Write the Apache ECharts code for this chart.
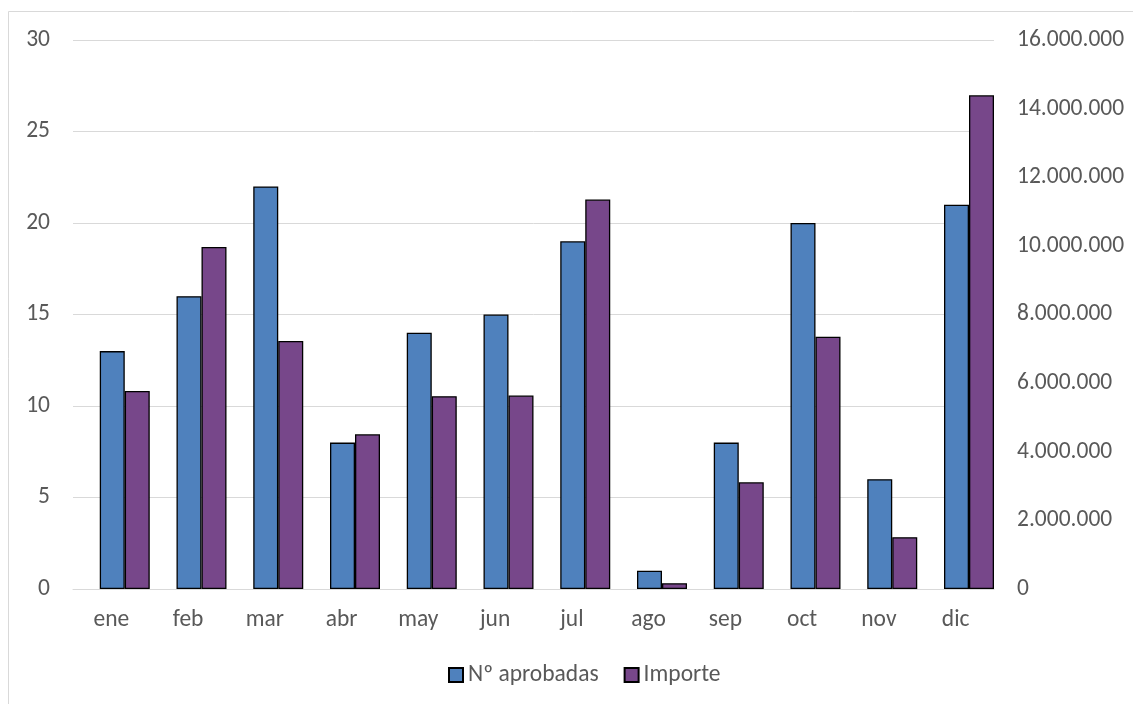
<!DOCTYPE html>
<html>
<head>
<meta charset="utf-8">
<script src="https://cdn.jsdelivr.net/npm/echarts@6/dist/echarts.min.js"></script>
<style>
html,body{margin:0;padding:0;background:#fff;}
#chart{width:1133px;height:704px;}
</style>
</head>
<body>
<div id="chart"></div>
<script>
const categories = ['ene','feb','mar','abr','may','jun','jul','ago','sep','oct','nov','dic'];
const aprobadas = [13, 16, 22, 8, 14, 15, 19, 1, 8, 20, 6, 21];
const importe = [5770000, 9970000, 7230000, 4510000, 5620000, 5640000, 11350000, 170000, 3110000, 7350000, 1510000, 14390000];
const spacer = [0,0,0,0,0,0,0,0,0,0,0,0];
const seriesNames = ['Nº aprobadas', 'Importe'];

const FONT = 'Carlito, "Liberation Sans", sans-serif';
const FS = 23.5;
const TXT = '#595959';
const GRID = '#D9D9D9';

function fmtThousands(v){
  return String(Math.round(v)).replace(/\B(?=(\d{3})+(?!\d))/g, '.');
}

const chart = echarts.init(document.getElementById('chart'), null, {renderer:'canvas'});
chart.setOption({
  animation: false,
  backgroundColor: '#fff',
  textStyle: {fontFamily: FONT},
  graphic: [{
    type: 'rect',
    shape: {x: 8.5, y: 11.5, width: 1300, height: 900},
    style: {fill: 'none', stroke: GRID, lineWidth: 1},
    silent: true
  }],
  grid: {left: 73, right: 139, top: 40, bottom: 115, containLabel: false},
  legend: {
    data: seriesNames,
    left: 443,
    top: 658,
    itemWidth: 14,
    itemHeight: 14,
    itemGap: 25,
    icon: 'rect',
    textStyle: {color: TXT, fontSize: FS, fontFamily: FONT, padding: [0,0,0,0]},
    selectedMode: false
  },
  xAxis: {
    type: 'category',
    data: categories,
    axisLine: {show: true, lineStyle: {color: GRID, width: 1}},
    axisTick: {show: false},
    axisLabel: {color: TXT, fontSize: FS, fontFamily: FONT, margin: 19}
  },
  yAxis: [{
    type: 'value', min: 0, max: 30, interval: 5,
    axisLine: {show: false}, axisTick: {show: false},
    splitLine: {show: true, lineStyle: {color: GRID, width: 1}},
    axisLabel: {color: TXT, fontSize: FS, fontFamily: FONT, margin: 23}
  }, {
    type: 'value', min: 0, max: 16000000, interval: 2000000,
    position: 'right',
    axisLine: {show: false}, axisTick: {show: false},
    splitLine: {show: false},
    axisLabel: {color: TXT, fontSize: FS, fontFamily: FONT, margin: 23, formatter: fmtThousands}
  }],
  series: [{
    name: '_spacer',
    type: 'bar',
    yAxisIndex: 0,
    data: spacer,
    barWidth: 26.75,
    barGap: '0%',
    silent: true,
    itemStyle: {color: 'rgba(0,0,0,0)', borderWidth: 0}
  }, {
    name: seriesNames[0],
    type: 'bar',
    yAxisIndex: 0,
    data: aprobadas,
    barWidth: 25,
    barGap: '0%',
    itemStyle: {color: '#4F81BD', borderColor: '#000', borderWidth: 1.3}
  }, {
    name: seriesNames[1],
    type: 'bar',
    yAxisIndex: 1,
    data: importe,
    barWidth: 25,
    barGap: '0%',
    itemStyle: {color: '#77478A', borderColor: '#000', borderWidth: 1.3}
  }]
});
</script>
</body>
</html>
